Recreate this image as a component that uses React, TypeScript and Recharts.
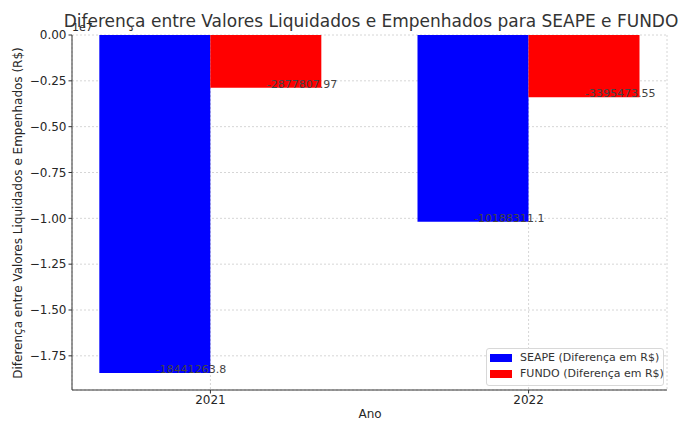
import React from 'react';
import { BarChart, Bar, XAxis, YAxis, CartesianGrid, LabelList } from 'recharts';

const anos = [2021, 2022];
const seape = [-18441263.8, -10188311.1];
const fundo = [-2877807.97, -3395473.55];
const yTicks = [0, -2500000, -5000000, -7500000, -10000000, -12500000, -15000000, -17500000];
const xTicks = [2021, 2022];
const seriesNames = ['SEAPE (Diferença em R$)', 'FUNDO (Diferença em R$)'];
const seriesColors = ['#0000ff', '#ff0000'];
const title = 'Diferença entre Valores Liquidados e Empenhados para SEAPE e FUNDO';
const yLabel = 'Diferença entre Valores Liquidados e Empenhados (R$)';
const xLabel = 'Ano';

const data = anos.map((ano, i) => ({ ano, seape: seape[i], fundo: fundo[i] }));

const FONT = '"DejaVu Sans", sans-serif';
const minVal = Math.min(...seape, ...fundo);
const yMin = minVal * 1.05;

const fmtY = (v: number) => {
  const s = (v / 1e7).toFixed(2);
  return s.startsWith('-') ? '\u2212' + s.slice(1) : s;
};

const ValueLabel = (props: any) => {
  const { x, y, width, height, value } = props;
  const bottom = Math.max(y, y + height);
  return (
    <text x={x + width / 2 + 1} y={bottom} fill="#444" fontSize={11} fontFamily={FONT} textAnchor="start">
      {String(value)}
    </text>
  );
};

const LegendBox = () => (
  <div
    style={{
      position: 'absolute',
      left: 486,
      top: 348,
      width: 178,
      height: 38,
      boxSizing: 'border-box',
      border: '1px solid #d8d8d8',
      borderRadius: 3,
      background: 'rgba(255,255,255,0.85)',
      fontFamily: FONT,
      fontSize: 11,
      color: '#333',
    }}
  >
    {seriesNames.map((name, i) => (
      <div key={i}>
        <div style={{ position: 'absolute', left: 3, top: 5 + i * 16, width: 22, height: 8, background: seriesColors[i] }} />
        <div style={{ position: 'absolute', left: 33, top: 1 + i * 16, lineHeight: '16px', whiteSpace: 'nowrap' }}>{name}</div>
      </div>
    ))}
  </div>
);

export default function App() {
  return (
    <div style={{ position: 'absolute', left: 0, top: 0, width: 682, height: 421, background: '#fff' }}>
      <BarChart
        width={682}
        height={421}
        data={data}
        margin={{ top: 35, right: 15, left: 0, bottom: 0 }}
        barGap={0}
      >
        <CartesianGrid stroke="#d6d6d6" strokeDasharray="2 2" />
        <XAxis
          dataKey="ano"
          type="number"
          domain={[2020.565, 2022.435]}
          ticks={xTicks}
          interval={0}
          height={31}
          tickSize={3.5}
          tickMargin={2}
          stroke="#333"
          tick={{ fill: '#262626', fontSize: 12, fontFamily: FONT }}
          tickFormatter={(v: number) => String(v)}
          allowDataOverflow
          label={() => (
            <text x={370} y={418} textAnchor="middle" fill="#262626" fontSize={12} fontFamily={FONT}>
              {xLabel}
            </text>
          )}
        />
        <YAxis
          type="number"
          domain={[yMin, 0]}
          ticks={yTicks}
          interval={0}
          width={72}
          tickSize={3.5}
          tickMargin={2}
          stroke="#333"
          tick={{ fill: '#262626', fontSize: 12, fontFamily: FONT }}
          tickFormatter={fmtY}
          allowDataOverflow
          label={() => (
            <text
              x={22}
              y={213}
              transform="rotate(-90 22 213)"
              textAnchor="middle"
              fill="#262626"
              fontSize={12}
              fontFamily={FONT}
            >
              {yLabel}
            </text>
          )}
        />
        <Bar dataKey="seape" name={seriesNames[0]} fill={seriesColors[0]} barSize={111} isAnimationActive={false}>
          <LabelList dataKey="seape" content={<ValueLabel />} />
        </Bar>
        <Bar dataKey="fundo" name={seriesNames[1]} fill={seriesColors[1]} barSize={111} isAnimationActive={false}>
          <LabelList dataKey="fundo" content={<ValueLabel />} />
        </Bar>
      </BarChart>
      <LegendBox />
      <svg width={682} height={421} style={{ position: 'absolute', left: 0, top: 0, pointerEvents: 'none' }}>
        <text x={72} y={31} fill="#262626" fontSize={11} fontFamily={FONT}>1e7</text>
        <text x={371} y={27} textAnchor="middle" fill="#333" fontSize={17} fontFamily={FONT}>{title}</text>
      </svg>
    </div>
  );
}
